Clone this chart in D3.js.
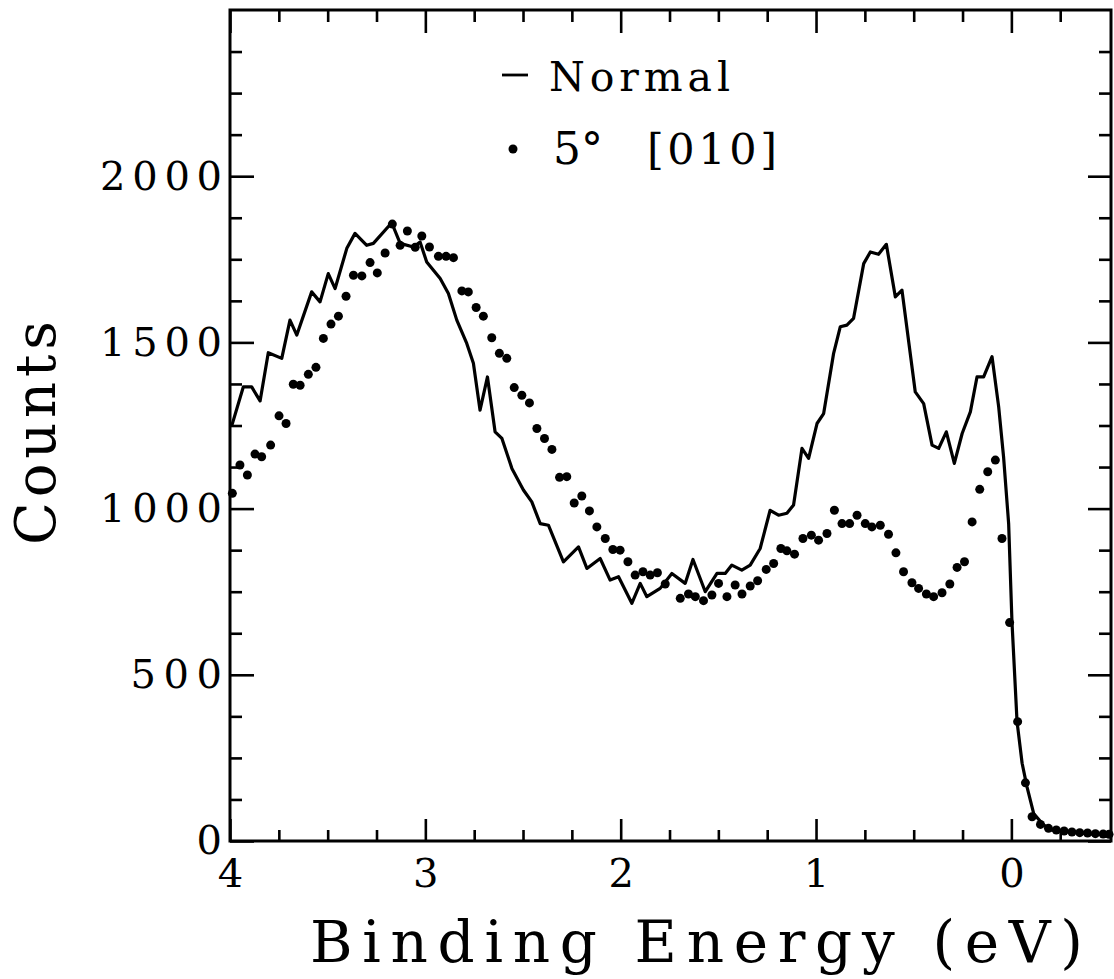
<!DOCTYPE html>
<html>
<head>
<meta charset="utf-8">
<script src="https://cdn.jsdelivr.net/npm/d3@7"></script>
<style>
  html, body { margin: 0; padding: 0; background: #fff; }
  svg { display: block; }
  text { font-family: "DejaVu Serif", serif; fill: #000; }
</style>
</head>
<body>
<svg id="chart" width="1114" height="979"></svg>
<script>
// ---------------- data ----------------
const normalEnergy = [3.99,3.932,3.889,3.846,3.804,3.735,3.693,3.658,3.582,3.539,
  3.497,3.462,3.402,3.36,3.3,3.266,3.172,3.129,3.061,3.027,
  2.993,2.924,2.882,2.839,2.788,2.754,2.72,2.682,2.643,2.608,
  2.557,2.498,2.455,2.412,2.37,2.293,2.216,2.173,2.105,2.054,
  2.011,1.943,1.9,1.866,1.798,1.738,1.67,1.63,1.567,1.507,
  1.465,1.431,1.38,1.337,1.286,1.235,1.192,1.149,1.115,1.072,
  1.038,0.995,0.961,0.91,0.876,0.842,0.808,0.756,0.722,0.68,
  0.64,0.594,0.56,0.492,0.449,0.406,0.372,0.333,0.292,0.252,
  0.21,0.176,0.142,0.099,0.065,0.04,0.014,-0.003,-0.029,-0.055,
  -0.08,-0.114,-0.157,-0.2,-0.285,-0.37,-0.497];
const normalCounts = [1251,1366,1366,1324,1469,1452,1567,1522,1652,1622,
  1707,1662,1783,1828,1792,1798,1860,1798,1787,1802,
  1742,1692,1647,1567,1497,1437,1296,1396,1231,1211,
  1121,1056,1020,955,950,840,885,820,850,785,
  795,715,775,735,760,805,775,847,750,805,
  805,830,815,830,880,995,980,986,1011,1181,
  1151,1256,1286,1467,1547,1552,1572,1737,1772,1765,
  1795,1637,1657,1351,1316,1191,1181,1231,1136,1226,
  1291,1396,1396,1457,1306,1156,955,660,359,234,
  163,83,53,33,28,23,18];

const tiltEnergy = [3.988,3.949,3.911,3.872,3.838,3.792,3.749,3.713,3.676,3.641,
  3.599,3.56,3.522,3.483,3.445,3.406,3.368,3.325,3.283,3.246,
  3.206,3.169,3.129,3.092,3.052,3.018,2.979,2.933,2.894,2.856,
  2.813,2.78,2.74,2.703,2.66,2.621,2.583,2.545,2.506,2.467,
  2.429,2.39,2.352,2.313,2.276,2.238,2.199,2.16,2.122,2.079,
  2.04,2.003,1.963,1.926,1.886,1.849,1.812,1.772,1.695,1.653,
  1.618,1.576,1.533,1.499,1.456,1.414,1.379,1.337,1.299,1.255,
  1.217,1.18,1.149,1.11,1.067,1.024,0.987,0.944,0.906,0.867,
  0.828,0.79,0.748,0.714,0.671,0.629,0.591,0.552,0.509,0.475,
  0.435,0.398,0.355,0.315,0.278,0.24,0.201,0.162,0.121,0.082,
  0.048,0.009,-0.032,-0.072,-0.106,-0.149,-0.19,-0.23,-0.27,-0.31,
  -0.35,-0.39,-0.43,-0.47,-0.5];
const tiltCounts = [1046,1131,1101,1164,1156,1191,1279,1256,1374,1371,
  1404,1425,1512,1555,1579,1639,1702,1700,1740,1709,
  1769,1856,1792,1835,1786,1820,1787,1759,1759,1755,
  1655,1652,1605,1579,1514,1467,1452,1364,1341,1318,
  1241,1211,1178,1094,1096,1017,1038,993,945,910,
  877,875,840,800,810,800,807,773,730,743,
  735,723,740,775,735,770,743,767,783,817,
  835,880,873,863,910,920,905,925,995,955,
  955,980,955,945,950,923,867,810,777,760,
  743,735,747,773,823,840,960,1058,1111,1146,
  910,657,359,175,73,50,38,33,30,27,
  25,24,22,21,20];

const xMajorTicks = [4, 3, 2, 1, 0];
const xMinorTicks = [3.75,3.5,3.25,2.75,2.5,2.25,1.75,1.5,1.25,0.75,0.5,0.25,-0.25];
const yMajorTicks = [0, 500, 1000, 1500, 2000];
const yMinorTicks = [125,250,375,625,750,875,1125,1250,1375,1625,1750,1875,2125,2250,2375];

const legendLabels = ["Normal", "5°", "[010]"];
const xTitle = "Binding Energy (eV)";
const yTitle = "Counts";

// ---------------- layout ----------------
const L = 230, R = 1111, T = 10, B = 841;
const svg = d3.select("#chart");

const x = d3.scaleLinear().domain([4, -0.51]).range([L, R]);
const y = d3.scaleLinear().domain([0, 2500]).range([B, T]);

const normal = normalEnergy.map((e, i) => ({e, c: normalCounts[i]}));
const tilt = tiltEnergy.map((e, i) => ({e, c: tiltCounts[i]}));

function styleAxis(g) {
  g.select(".domain").remove();
  g.selectAll("line").attr("stroke", "#000").attr("stroke-width", 2.6);
}

// bottom
svg.append("g").attr("transform", `translate(0,${B})`)
  .call(d3.axisBottom(x).tickValues(xMajorTicks).tickSize(-22).tickPadding(18).tickFormat(d3.format("d")))
  .call(styleAxis)
  .call(g => g.selectAll("text").attr("font-size", 40).attr("font-family", "DejaVu Serif"));
svg.append("g").attr("transform", `translate(0,${B})`)
  .call(d3.axisBottom(x).tickValues(xMinorTicks).tickSize(-11).tickFormat(""))
  .call(styleAxis);
// top
svg.append("g").attr("transform", `translate(0,${T})`)
  .call(d3.axisTop(x).tickValues(xMajorTicks).tickSize(-23).tickFormat(""))
  .call(styleAxis);
svg.append("g").attr("transform", `translate(0,${T})`)
  .call(d3.axisTop(x).tickValues(xMinorTicks).tickSize(-12).tickFormat(""))
  .call(styleAxis);
// left
svg.append("g").attr("transform", `translate(${L},0)`)
  .call(d3.axisLeft(y).tickValues(yMajorTicks).tickSize(-24).tickPadding(8).tickFormat(d3.format("d")))
  .call(styleAxis)
  .call(g => g.selectAll("text")
    .attr("font-size", 40).attr("font-family", "DejaVu Serif")
    .attr("lengthAdjust", "spacing")
    .attr("textLength", d => { const n = String(d).length; return n === 1 ? 27 : n * 30.5; }));
svg.append("g").attr("transform", `translate(${L},0)`)
  .call(d3.axisLeft(y).tickValues(yMinorTicks).tickSize(-12).tickFormat(""))
  .call(styleAxis);
// right
svg.append("g").attr("transform", `translate(${R},0)`)
  .call(d3.axisRight(y).tickValues(yMajorTicks).tickSize(-23).tickFormat(""))
  .call(styleAxis);
svg.append("g").attr("transform", `translate(${R},0)`)
  .call(d3.axisRight(y).tickValues(yMinorTicks).tickSize(-12).tickFormat(""))
  .call(styleAxis);

// frame
svg.append("rect")
  .attr("x", L).attr("y", T).attr("width", R - L).attr("height", B - T)
  .attr("fill", "none").attr("stroke", "#000").attr("stroke-width", 3);

// normal-emission line
svg.append("path")
  .datum(normal)
  .attr("fill", "none").attr("stroke", "#000").attr("stroke-width", 3.2)
  .attr("stroke-linejoin", "round")
  .attr("d", d3.line().x(d => x(d.e)).y(d => y(d.c)));

// 5° [010] dots
svg.append("g").selectAll("circle")
  .data(tilt).join("circle")
  .attr("cx", d => x(d.e)).attr("cy", d => y(d.c)).attr("r", 4.5)
  .attr("fill", "#000");

// legend
svg.append("line").attr("x1", 502).attr("x2", 528).attr("y1", 75).attr("y2", 75)
  .attr("stroke", "#000").attr("stroke-width", 2.8);
svg.append("text").attr("x", 549).attr("y", 91).attr("font-size", 41)
  .attr("textLength", 181).attr("lengthAdjust", "spacing")
  .text(legendLabels[0]);
svg.append("circle").attr("cx", 513).attr("cy", 149).attr("r", 4.5).attr("fill", "#000");
svg.append("text").attr("x", 553).attr("y", 164).attr("font-size", 44)
  .text(legendLabels[1]);
svg.append("text").attr("x", 647).attr("y", 164).attr("font-size", 43)
  .attr("textLength", 130).attr("lengthAdjust", "spacing")
  .text(legendLabels[2]);

// axis titles
svg.append("text").attr("x", 310).attr("y", 962).attr("font-size", 58)
  .attr("textLength", 773).attr("lengthAdjust", "spacing")
  .text(xTitle);
svg.append("text")
  .attr("transform", "translate(55,545) rotate(-90)")
  .attr("font-size", 56)
  .attr("textLength", 224).attr("lengthAdjust", "spacing")
  .text(yTitle);
</script>
</body>
</html>
